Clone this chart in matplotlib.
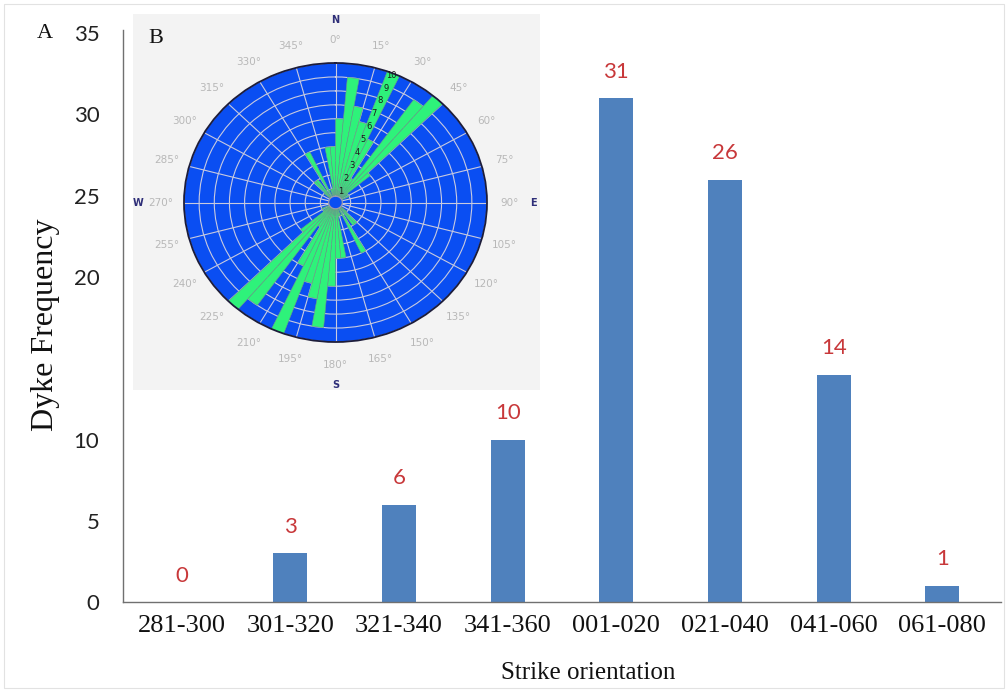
import matplotlib
matplotlib.use("Agg")
import matplotlib.pyplot as plt
import numpy as np
from matplotlib.patches import Rectangle

# Dyke strike-orientation histogram
categories = ["281-300", "301-320", "321-340", "341-360",
              "001-020", "021-040", "041-060", "061-080"]
frequency = [0, 3, 6, 10, 31, 26, 14, 1]
y_ticks = [0, 5, 10, 20, 25, 30, 35]

# Rose diagram: 5-degree strike bins (bin start, degrees) and dyke counts.
# Strikes are bidirectional, so each bin is also plotted at +180 degrees.
rose_bins = [0, 5, 10, 15, 20, 25, 30, 35, 40, 45, 50, 60,
             130, 135, 140, 150, 160, 165, 170, 175]
rose_counts = [6, 9, 7, 6, 10, 5, 2, 9, 10, 3, 1, 1,
               1, 2, 2, 4, 1, 1, 4, 4]
rose_rings = list(range(1, 11))
compass = [(0, "N"), (90, "E"), (180, "S"), (270, "W")]

W, H = 1008, 691
fig = plt.figure(figsize=(W / 100, H / 100), dpi=100)
fig.patch.set_facecolor("white")
fig.patches.append(Rectangle((0.004, 0.004), 0.992, 0.99, transform=fig.transFigure,
                             fill=False, ec="#e2e2e2", lw=0.8))

# ---- main bar chart -------------------------------------------------------
ax = fig.add_axes([123 / W, 1 - 602 / H, 878 / W, 572 / H])
x = np.arange(len(categories))
bars = ax.bar(x, frequency, width=0.31, color="#4f81bd", zorder=2)
ax.set_xlim(-0.54, 7.54)
ax.set_ylim(0, 35.2)

for sp in ("top", "right"):
    ax.spines[sp].set_visible(False)
for sp in ("left", "bottom"):
    ax.spines[sp].set_color("#707070")
    ax.spines[sp].set_linewidth(1.0)

ax.set_xticks(x, categories, fontfamily="Liberation Serif", fontsize=19, color="#111111")
ax.set_yticks(y_ticks, [str(v) for v in y_ticks], fontfamily="Lato", fontsize=16,
              color="#222222")
ax.tick_params(axis="x", length=0, pad=9)
ax.tick_params(axis="y", length=0, pad=17)

for xi, val in zip(x, frequency):
    ax.annotate(str(val), (xi, val), xytext=(0, 19), textcoords="offset points",
                ha="center", va="center", fontfamily="Lato", fontsize=16,
                color="#c8383a")

ax.set_ylabel("Dyke Frequency", fontfamily="Liberation Serif", fontsize=23,
              color="#111111")
ax.yaxis.set_label_coords(-0.0718, 0.484)
ax.set_xlabel("Strike orientation", fontfamily="Liberation Serif", fontsize=18,
              color="#111111")
ax.xaxis.set_label_coords(0.53, -0.105)

fig.text(45 / W, 1 - 33 / H, "A", fontfamily="Liberation Serif", fontsize=16,
         ha="center", va="center", color="#111111")

# ---- inset panel with rose diagram ----------------------------------------
bg = fig.add_axes([133 / W, 1 - 390 / H, 407 / W, 376 / H])
bg.set_facecolor("#f3f3f3")
bg.set_xticks([])
bg.set_yticks([])
for sp in bg.spines.values():
    sp.set_visible(False)
bg.text(0.055, 0.935, "B", transform=bg.transAxes, fontfamily="Liberation Serif",
        fontsize=16, ha="center", va="center", color="#111111")

pax = fig.add_axes([184 / W, 1 - 342 / H, 303 / W, 279 / H], projection="polar")
pax.set_aspect("auto")
pax.set_theta_zero_location("N")
pax.set_theta_direction(-1)
pax.set_facecolor("#0a4ef2")
pax.set_axisbelow(True)

theta = np.deg2rad(rose_bins + [b + 180 for b in rose_bins])
radii = rose_counts + rose_counts
pax.bar(theta, radii, width=np.deg2rad(5), align="edge", color="#2ef27a",
        edgecolor="#6f9a84", linewidth=0.4, zorder=2)

pax.set_ylim(0, 10)
pax.set_rgrids(rose_rings, labels=[""] * len(rose_rings))
pax.set_thetagrids(range(0, 360, 15), labels=[f"{a}°" for a in range(0, 360, 15)],
                   fontsize=7.5, color="#b8b8b8")
pax.tick_params(axis="x", pad=6)
pax.grid(color="#c8cadf", linewidth=0.8)
pax.spines["polar"].set_color("#1c1c3a")
pax.spines["polar"].set_linewidth(1.3)

# ring labels drawn on top of the petals along the 22-degree bearing
for r in rose_rings:
    pax.text(np.deg2rad(22), r - 0.15, str(r), ha="center", va="center",
             fontsize=6, color="#1a1a1a", zorder=6)

circ = np.linspace(0, 2 * np.pi, 120)
pax.fill(circ, np.full_like(circ, 0.4), color="#0a4ef2", zorder=3)
pax.plot(circ, np.full_like(circ, 0.45), color="#9a9aae", lw=0.9, zorder=3)

for ang, lab in compass:
    pax.text(np.deg2rad(ang), 13.05, lab, ha="center", va="center", fontsize=7,
             fontweight="bold", color="#2e2e78", clip_on=False)

fig.savefig("out.png", dpi=100, facecolor="white")
